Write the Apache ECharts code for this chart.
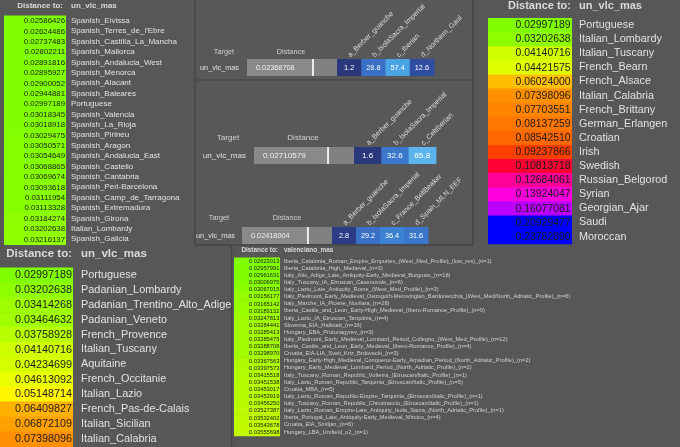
<!DOCTYPE html>
<html><head><meta charset="utf-8">
<script src="https://cdn.jsdelivr.net/npm/echarts@6/dist/echarts.min.js"></script>
<style>html,body{margin:0;padding:0;background:#575757;}#c{width:680px;height:447px;}</style>
</head><body><div id="c"></div><script>
// ---------------- DATA ----------------
const target = 'un_vlc_mas';
const target2 = 'valenciano_mas';

const tlNames = ['Spanish_Eivissa',"Spanish_Terres_de_l'Ebre",'Spanish_Castilla_La_Mancha','Spanish_Mallorca','Spanish_Andalucia_West','Spanish_Menorca','Spanish_Alacant','Spanish_Baleares','Portuguese','Spanish_Valencia','Spanish_La_Rioja','Spanish_Pirineu','Spanish_Aragon','Spanish_Andalucia_East','Spanish_Castello','Spanish_Cantabria','Spanish_Peri-Barcelona','Spanish_Camp_de_Tarragona','Spanish_Extremadura','Spanish_Girona','Italian_Lombardy','Spanish_Galicia'];
const tlValues = [0.02586426,0.02624486,0.02737483,0.02802211,0.02891816,0.02895927,0.02900052,0.02944881,0.02997189,0.03018345,0.03018918,0.03029475,0.03050571,0.03054649,0.03068865,0.03069674,0.03093618,0.03111954,0.03113328,0.03184274,0.03202638,0.03216137];

const trNames = ['Portuguese','Italian_Lombardy','Italian_Tuscany','French_Bearn','French_Alsace','Italian_Calabria','French_Brittany','German_Erlangen','Croatian','Irish','Swedish','Russian_Belgorod','Syrian','Georgian_Ajar','Saudi','Moroccan'];
const trValues = [0.02997189,0.03202638,0.04140716,0.04421575,0.06024000,0.07398096,0.07703551,0.08137259,0.08542510,0.09237866,0.10813718,0.12684061,0.13924047,0.16077081,0.20929477,0.23782890];

const blNames = ['Portuguese','Padanian_Lombardy','Padanian_Trentino_Alto_Adige','Padanian_Veneto','French_Provence','Italian_Tuscany','Aquitaine','French_Occitanie','Italian_Lazio','French_Pas-de-Calais','Italian_Sicilian','Italian_Calabria'];
const blValues = [0.02997189,0.03202638,0.03414268,0.03464632,0.03758928,0.04140716,0.04234699,0.04613092,0.05148714,0.06409827,0.06872109,0.07398096];

const bmNames = [
 'Iberia_Catalonia_Roman_Empire_Empuries_(West_Med_Profile)_(low_res)_(n=1)',
 'Iberia_Catalonia_High_Medieval_(n=3)',
 'Italy_Alto_Adige_Late_Antiquity-Early_Medieval_Burgusio_(n=18)',
 'Italy_Tuscany_IA_Etruscan_Casenovole_(n=6)',
 'Italy_Lazio_Late_Antiquity_Rome_(West_Med_Profile)_(n=3)',
 'Italy_Piedmont_Early_Medieval_Ostrogoth-Merovingian_Bardonecchia_(West_Med/North_Adriatic_Profile)_(n=8)',
 'Italy_Marche_IA_Picene_Novilara_(n=28)',
 'Iberia_Castile_and_Leon_Early-High_Medieval_(Ibero-Romance_Profile)_(n=9)',
 'Italy_Lazio_IA_Etruscan_Tarquinia_(n=4)',
 'Slovenia_EIA_Hallstatt_(n=16)',
 'Hungary_EBA_Protonagyrev_(n=3)',
 'Italy_Piedmont_Early_Medieval_Lombard_Period_Collegno_(West_Med_Profile)_(n=12)',
 'Iberia_Castile_and_Leon_Early_Medieval_(Ibero-Romance_Profile)_(n=4)',
 'Croatia_EIA-LIA_Sveti_Kriz_Brdovecki_(n=3)',
 'Hungary_Early-High_Medieval_Conqueror-Early_Arpadian_Period_(North_Adriatic_Profile)_(n=2)',
 'Hungary_Early_Medieval_Lombard_Period_(North_Adriatic_Profile)_(n=2)',
 'Italy_Tuscany_Roman_Republic_Volterra_(Etruscan/Italic_Profile)_(n=1)',
 'Italy_Lazio_Roman_Republic_Tarquinia_(Etruscan/Italic_Profile)_(n=5)',
 'Croatia_MBA_(n=5)',
 'Italy_Lazio_Roman_Republic-Empire_Tarquinia_(Etruscan/Italic_Profile)_(n=1)',
 'Italy_Tuscany_Roman_Republic_Chiostraccio_(Etruscan/Italic_Profile)_(n=1)',
 'Italy_Lazio_Roman_Empire-Late_Antiquity_Isola_Sacra_(North_Adriatic_Profile)_(n=1)',
 'Iberia_Portugal_Late_Antiquity-Early_Medieval_Miroico_(n=4)',
 'Croatia_EIA_Smiljan_(n=6)',
 'Hungary_LBA_Umfield_o2_(n=1)'];
const bmValues = [0.02623013,0.02957991,0.02961631,0.03006975,0.03067015,0.03156177,0.03165142,0.03183132,0.03247813,0.03284441,0.03285413,0.03285475,0.03288708,0.03298970,0.03367563,0.03397573,0.03415518,0.03451538,0.03453017,0.03453919,0.03456250,0.03527387,0.03532402,0.03543678,0.03555698];

const admixDistances = [0.02368708, 0.02710579, 0.02418004];
const admixSources1 = ['a_Berber_guanche','b_IsolaSacra_Imperial','c_Iberian','d_Northern_Gaul'];
const admixValues1 = [1.2, 28.8, 57.4, 12.6];
const admixSources2 = ['a_Berber_guanche','b_IsolaSacra_Imperial','c_Celtiberian'];
const admixValues2 = [1.6, 32.6, 65.8];
const admixSources3 = ['a_Berber_guanche','b_IsolaSacra_Imperial','c_France_BellBeaker','d_Spain_MLN_EEF'];
const admixValues3 = [2.8, 29.2, 36.4, 31.6];

// ---------------- STYLE ----------------
const FONT = '"Liberation Sans", Arial, sans-serif';
const distStops = [[0.030,'#80ff00'],[0.040,'#c8ff00'],[0.050,'#ffff00'],[0.060,'#ffc000'],[0.075,'#ff8c00'],[0.085,'#ff6a00'],[0.092,'#ff4000'],[0.108,'#ff0033'],[0.127,'#ff0099'],[0.139,'#ff00dd'],[0.161,'#bb00ff'],[0.200,'#0000ff']];
const narrowStops = [[0.0296,'#80ff00'],[0.0356,'#c2fa00']];
const shareStops = [[0,'#283372'],[3,'#2c3d85'],[13,'#2f4ea2'],[29,'#3970c6'],[36,'#3d80d2'],[58,'#4aa4e2'],[66,'#5bb5ec']];
function hex(c){return [1,3,5].map(i=>parseInt(c.slice(i,i+2),16));}
function scaleColor(stops, v){
  if (v <= stops[0][0]) return stops[0][1];
  for (let i = 1; i < stops.length; i++) {
    if (v <= stops[i][0]) {
      const t = (v - stops[i-1][0]) / (stops[i][0] - stops[i-1][0]);
      const a = hex(stops[i-1][1]), b = hex(stops[i][1]);
      return 'rgb(' + a.map((x,k)=>Math.round(x + (b[k]-x)*t)).join(',') + ')';
    }
  }
  return stops[stops.length-1][1];
}

const grids = [], xAxes = [], yAxes = [], series = [], graphics = [];

// panel frames
graphics.push({type:'rect', z:-10, shape:{x:195, y:-2, width:278, height:247}, style:{fill:'#585858', stroke:'#474747', lineWidth:1.5}});
graphics.push({type:'line', z:-9, shape:{x1:195, y1:80, x2:473, y2:80}, style:{stroke:'#484848', lineWidth:1.5}});
graphics.push({type:'line', z:-9, shape:{x1:231.5, y1:246, x2:231.5, y2:447}, style:{stroke:'#464646', lineWidth:1.5}});

// ---------------- LIST PANELS ----------------
const lists = [
  {names: tlNames, values: tlValues, stops: distStops, left:4, top:15.5, width:62, rowH:10.4, font:8, valFont:7.8, margin:5, pad:1, nameColor:'#e2e2e2',
   header:{y:6, right:63, left:71, size:8, t:target}},
  {names: trNames, values: trValues, stops: distStops, left:488, top:18, width:84, rowH:14.1, font:10.8, valFont:10.4, margin:7, pad:1.5, nameColor:'#e2e2e2',
   header:{y:5.5, right:571, left:579, size:11, t:target}},
  {names: blNames, values: blValues, stops: distStops, left:0, top:267.5, width:73, rowH:14.9, font:10.9, valFont:10.8, margin:8, pad:1, nameColor:'#e2e2e2',
   header:{y:254, right:72, left:81, size:11.5, t:target}},
  {names: bmNames, values: bmValues, stops: narrowStops, left:234, top:257.4, width:46, rowH:7.125, font:5.7, valFont:5.8, margin:4, pad:0.5, nameColor:'#d0d0d0',
   header:{y:250, right:278, left:284, size:6.4, t:target2}}
];

lists.forEach(L => {
  const gi = grids.length;
  grids.push({left:L.left, top:L.top, width:L.width, height:L.rowH*L.names.length, containLabel:false, outerBoundsMode:'none'});
  xAxes.push({type:'category', gridIndex:gi, data:['v'], show:false});
  yAxes.push({type:'category', gridIndex:gi, data:L.names, inverse:true, position:'right',
    axisLine:{show:false}, axisTick:{show:false}, splitLine:{show:false},
    axisLabel:{interval:0, margin:L.margin, color:L.nameColor, fontSize:L.font, fontFamily:FONT, align:'left'}});
  series.push({type:'custom', xAxisIndex:gi, yAxisIndex:gi, silent:true,
    encode:{x:0, y:1},
    data:L.values.map((v,i)=>[0,i,v]),
    renderItem:(params, api) => {
      const v = api.value(2);
      const c = api.coord([api.value(0), api.value(1)]);
      const s = api.size([1,1]);
      return {type:'group', children:[
        {type:'rect', shape:{x:c[0]-s[0]/2, y:c[1]-s[1]/2, width:s[0], height:s[1]+0.6}, style:{fill:scaleColor(L.stops, v)}},
        {type:'text', z2:5, style:{x:c[0]+s[0]/2-L.pad, y:c[1]+0.3, text:v.toFixed(8), align:'right', verticalAlign:'middle',
          fill:'#1c1c1c', font:L.valFont+'px '+FONT}}
      ]};
    }});
  graphics.push({type:'text', style:{x:L.header.right, y:L.header.y, text:'Distance to:', align:'right', verticalAlign:'middle', fill:'#dadada', font:'bold '+L.header.size+'px '+FONT}});
  graphics.push({type:'text', style:{x:L.header.left, y:L.header.y, text:L.header.t, align:'left', verticalAlign:'middle', fill:'#dadada', font:'bold '+L.header.size+'px '+FONT}});
});

// ---------------- ADMIXTURE TABLES ----------------
const admix = [
  {sources:admixSources1, values:admixValues1, distance:admixDistances[0], distMax:0.0323, headY:52, targetX:224, distX:291, top:59, h:17, distLeft:247, distW:90, cellW:24.25, font:7.3, margin:8},
  {sources:admixSources2, values:admixValues2, distance:admixDistances[1], distMax:0.0366, headY:138, targetX:228, distX:303, top:147, h:17, distLeft:254, distW:100, cellW:27.3, font:8.1, margin:8},
  {sources:admixSources3, values:admixValues3, distance:admixDistances[2], distMax:0.0330, headY:218, targetX:219, distX:287, top:227, h:17, distLeft:242, distW:90, cellW:24, font:7.3, margin:7}
];

admix.forEach(A => {
  // distance cell
  let gi = grids.length;
  grids.push({left:A.distLeft, top:A.top, width:A.distW, height:A.h, containLabel:false, outerBoundsMode:'none'});
  xAxes.push({type:'value', gridIndex:gi, min:0, max:A.distMax, show:false});
  yAxes.push({type:'category', gridIndex:gi, data:[target], position:'left',
    axisLine:{show:false}, axisTick:{show:false},
    axisLabel:{margin:A.margin, color:'#e0e0e0', fontSize:A.font, fontFamily:FONT}});
  series.push({type:'bar', xAxisIndex:gi, yAxisIndex:gi, data:[A.distance], barWidth:'100%', silent:true,
    itemStyle:{color:'#898989'}, showBackground:true, backgroundStyle:{color:'#818181'},
    label:{show:true, position:'insideLeft', distance:9, color:'#f0f0f0', fontSize:A.font, fontFamily:FONT,
      formatter:p=>p.value.toFixed(8)}});
  series.push({type:'custom', xAxisIndex:gi, yAxisIndex:gi, silent:true, encode:{x:0,y:1}, z:5,
    data:[[A.distance,0]],
    renderItem:(params, api) => {
      const c = api.coord([api.value(0), api.value(1)]);
      const s = api.size([0,1]);
      return {type:'rect', shape:{x:c[0]-1, y:c[1]-s[1]/2, width:2, height:s[1]}, style:{fill:'#ececec'}};
    }});
  // component cells
  gi = grids.length;
  grids.push({left:A.distLeft+A.distW, top:A.top, width:A.cellW*A.sources.length, height:A.h, containLabel:false, outerBoundsMode:'none'});
  xAxes.push({type:'category', gridIndex:gi, data:A.sources, position:'top',
    axisLine:{show:false}, axisTick:{show:false},
    axisLabel:{interval:0, rotate:-45, margin:3, color:'#dcdcdc', fontSize:7.2, fontFamily:FONT}});
  yAxes.push({type:'category', gridIndex:gi, data:[target], show:false});
  series.push({type:'custom', xAxisIndex:gi, yAxisIndex:gi, silent:true, encode:{x:0,y:1},
    data:A.values.map((v,i)=>[i,0,v]),
    renderItem:(params, api) => {
      const v = api.value(2);
      const c = api.coord([api.value(0), api.value(1)]);
      const s = api.size([1,1]);
      return {type:'group', children:[
        {type:'rect', shape:{x:c[0]-s[0]/2, y:c[1]-s[1]/2, width:s[0]+0.5, height:s[1]}, style:{fill:scaleColor(shareStops, v)}},
        {type:'text', z2:5, style:{x:c[0], y:c[1]+0.3, text:v.toFixed(1), align:'center', verticalAlign:'middle', fill:'#ffffff', font:A.font+'px '+FONT}}
      ]};
    }});
  graphics.push({type:'text', style:{x:A.targetX, y:A.headY, text:'Target', align:'center', verticalAlign:'middle', fill:'#d0d0d0', font:A.font+'px '+FONT}});
  graphics.push({type:'text', style:{x:A.distX, y:A.headY, text:'Distance', align:'center', verticalAlign:'middle', fill:'#d0d0d0', font:A.font+'px '+FONT}});
});

const chart = echarts.init(document.getElementById('c'), null, {renderer:'canvas'});
chart.setOption({
  backgroundColor:'#575757',
  animation:false,
  grid:grids, xAxis:xAxes, yAxis:yAxes, series:series, graphic:graphics
});
</script></body></html>
